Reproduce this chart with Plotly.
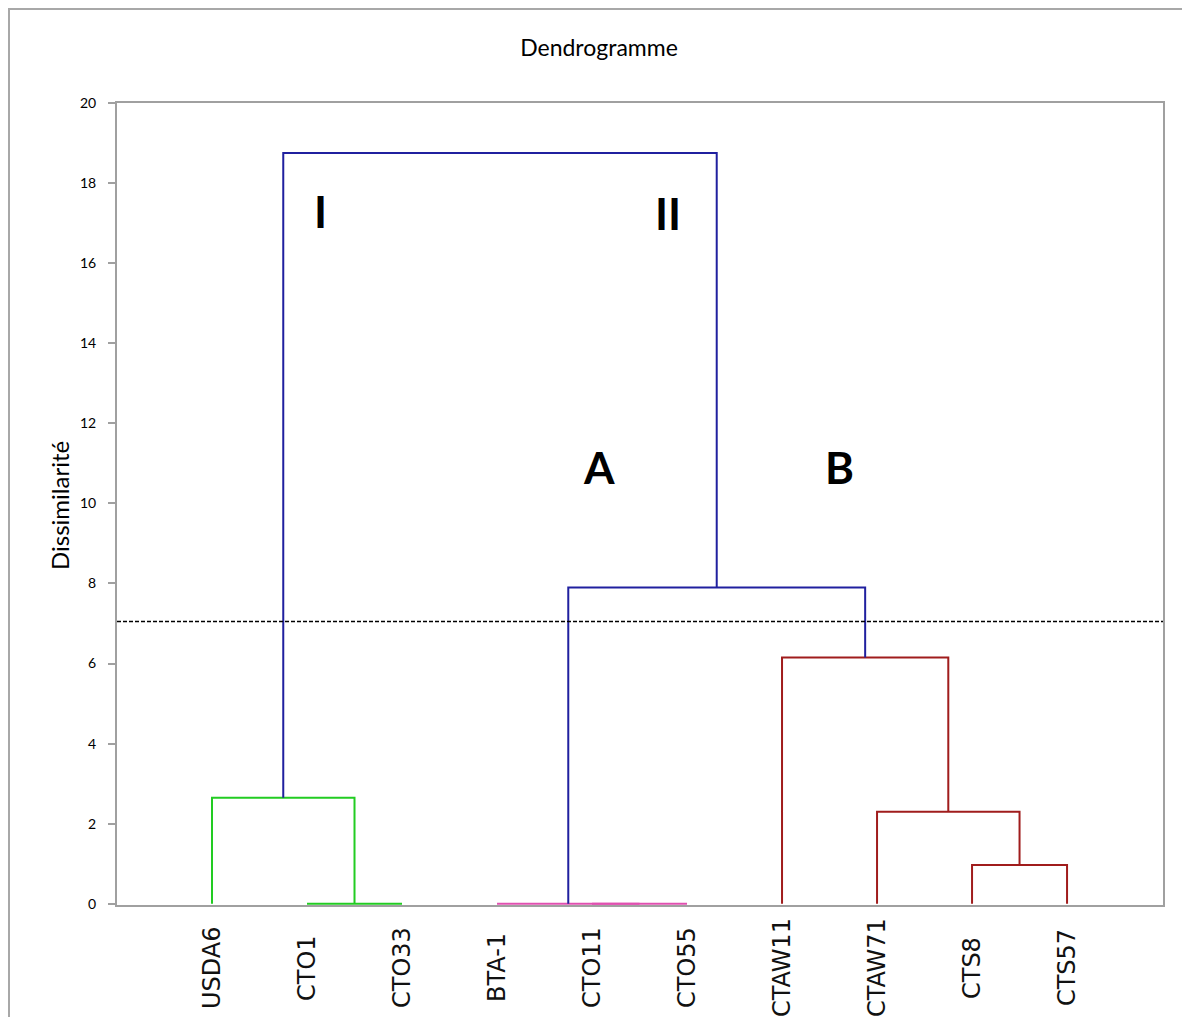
import plotly.graph_objects as go

# ---- data ----
leaf_labels = ["USDA6", "CTO1", "CTO33", "BTA-1", "CTO11", "CTO55",
               "CTAW11", "CTAW71", "CTS8", "CTS57"]
# linkage steps: node ids < 10 are leaves, new nodes numbered 10, 11, ...
merge_left = [1, 4, 3, 8, 7, 0, 6, 12, 15]
merge_right = [2, 5, 11, 9, 13, 10, 14, 16, 17]
merge_height = [0.0, 0.0, 0.0, 0.97, 2.3, 2.65, 6.15, 7.9, 18.75]
merge_color = ["#22CC22", "#E050B0", "#E050B0", "#A01C1C", "#A01C1C",
               "#22CC22", "#A01C1C", "#20209F", "#20209F"]
cut_level = 7.05
y_ticks = [0, 2, 4, 6, 8, 10, 12, 14, 16, 18, 20]
group_labels = ["I", "II", "A", "B"]
group_x = [1.14, 4.8, 4.07, 6.61]
group_y = [17.3, 17.25, 10.9, 10.9]

# ---- build dendrogram ----
pos = {i: (float(i), 0.0) for i in range(len(leaf_labels))}
fig = go.Figure()
for k, (a, b, h, c) in enumerate(zip(merge_left, merge_right, merge_height, merge_color)):
    xa, ha = pos[a]
    xb, hb = pos[b]
    fig.add_trace(go.Scatter(x=[xa, xa, xb, xb], y=[ha, h, h, hb], mode="lines",
                             line=dict(color=c, width=2), hoverinfo="skip",
                             showlegend=False))
    pos[len(leaf_labels) + k] = ((xa + xb) / 2, h)

W, H = 1190, 1017
OFF = 8  # page body margin
PL, PR, PT, PB = 117, 1163, 103, 905  # plot area in page pixels
L, T = PL - OFF, PT - OFF
R = (W + OFF) - PR
B = (H + OFF) - PB
pw, ph = PR - PL, PB - PT

def px(x):
    return (x - PL) / pw

def py(y):
    return (PB - y) / ph

fig.add_shape(type="line", xref="paper", yref="y", x0=0, x1=1, y0=cut_level, y1=cut_level,
              line=dict(color="black", width=1.5, dash="4px,2px"))
# outer frame
fig.add_shape(type="rect", xref="paper", yref="paper", x0=px(9), x1=px(1240),
              y0=py(1070), y1=py(9), line=dict(color="#A8A8A8", width=2), layer="below")

for t, gx, gy in zip(group_labels, group_x, group_y):
    fig.add_annotation(x=gx, y=gy, xref="x", yref="y", text="<b>%s</b>" % t, showarrow=False,
                       font=dict(family="Lato", size=44, color="black"))

for i, lab in enumerate(leaf_labels):
    fig.add_annotation(x=i, y=py(968), xref="x", yref="paper", text=lab, showarrow=False,
                       textangle=-90, xanchor="center", yanchor="middle",
                       font=dict(family="DejaVu Sans", size=24, color="#111111"))

fig.add_annotation(x=px(60), y=py(506), xref="paper", yref="paper", text="Dissimilarité",
                   textangle=-90, showarrow=False, xanchor="center", yanchor="middle",
                   font=dict(family="Lato", size=24, color="black"))

fig.update_layout(
    width=W, height=H,
    margin=dict(l=L, r=R, t=T, b=B),
    paper_bgcolor="white", plot_bgcolor="white",
    title=dict(text="Dendrogramme", x=px(599), xref="paper", xanchor="center",
               y=1 - (48 - OFF) / H, yanchor="middle",
               font=dict(family="Lato", size=23, color="black")),
    xaxis=dict(range=[-1, 10.01], showgrid=False, zeroline=False, showticklabels=False,
               ticks="", showline=True, linecolor="#A0A0A0", linewidth=2, mirror=True),
    yaxis=dict(range=[-0.03, 20], tickvals=y_ticks, showgrid=False, zeroline=False,
               ticks="outside", ticklen=7, tickcolor="#A0A0A0", tickwidth=2,
               showline=True, linecolor="#A0A0A0", linewidth=2, mirror=True,
               ticklabelstandoff=9,
               tickfont=dict(family="Lato", size=14, color="black")),
)

fig.write_html("out.html")
